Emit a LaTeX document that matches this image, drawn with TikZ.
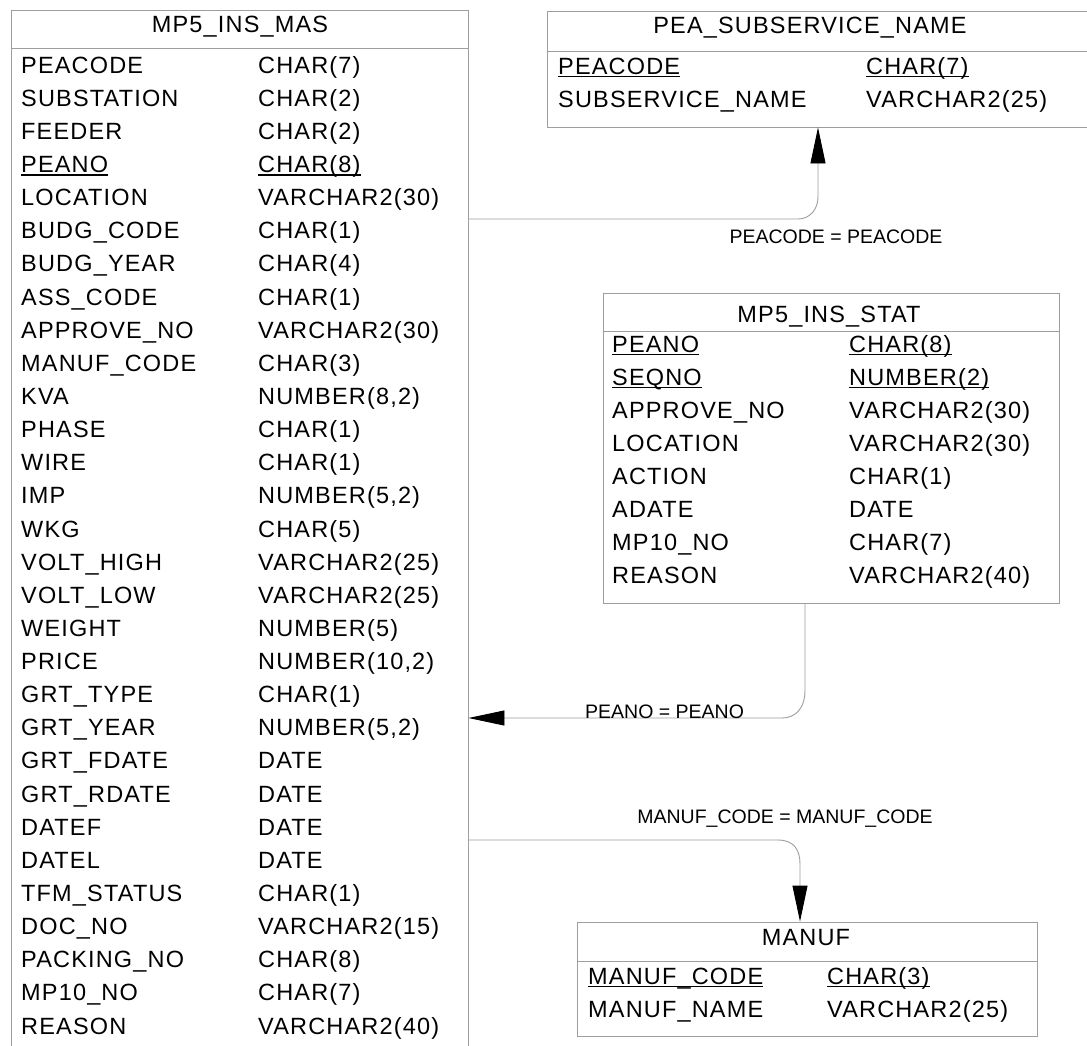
\documentclass[tikz,border=0pt]{standalone}
\usepackage{fontspec}
\setmainfont{Liberation Sans}
\newfontfamily\rowfont[LetterSpace=5]{Liberation Sans}
\usetikzlibrary{arrows.meta}
\definecolor{frame}{gray}{0.62}
% primary-key fields are underlined with a heavier rule
\newcommand\pkey[1]{\setbox0\hbox{#1}\rlap{\rule[-3.2pt]{\wd0}{1.6pt}}\box0}
\tikzset{
  tbl/.style={draw=frame, line width=0.9pt, rectangle, inner sep=0pt},
  sep/.style={draw=frame, line width=0.9pt},
  fld/.style={anchor=base west, inner sep=0pt, font=\rowfont\fontsize{23.5}{27}\selectfont},
  ttl/.style={anchor=base, inner sep=0pt, font=\rowfont\fontsize{23.5}{27}\selectfont},
  rel/.style={draw=frame, line width=0.9pt, -{Triangle[length=36pt,width=15pt,color=black]}},
  lbl/.style={inner sep=0pt, font=\fontsize{19.5}{22}\selectfont}
}
\begin{document}
\begin{tikzpicture}[x=1pt,y=-1pt]
\useasboundingbox[fill=white] (0,0) rectangle (1087,1045);

% ---------- table frames ----------
\node[tbl, minimum width=457pt, minimum height=1050pt] (mas) at (239.5,535) {};
\node[tbl, minimum width=548pt, minimum height=116pt] (pea) at (821,69) {};
\node[tbl, minimum width=456pt, minimum height=310pt] (stat) at (831,448) {};
\node[tbl, minimum width=460pt, minimum height=114pt] (manuf) at (807,979) {};

\draw[sep] ([yshift=-39pt]mas.north west) -- ([yshift=-39pt]mas.north east);
\draw[sep] ([yshift=-41pt]pea.north west) -- ([yshift=-41pt]pea.north east);
\draw[sep] ([yshift=-39pt]stat.north west) -- ([yshift=-39pt]stat.north east);
\draw[sep] ([yshift=-40pt]manuf.north west) -- ([yshift=-40pt]manuf.north east);

% ---------- MP5_INS_MAS ----------
\node[ttl] (mas-t) at (240,32) {MP5\_INS\_MAS};
\node[fld] (mas-n0)  at (21,73)     {PEACODE};      \node[fld] (mas-d0)  at (258,73)     {CHAR(7)};
\node[fld] (mas-n1)  at (21,106.1)  {SUBSTATION};   \node[fld] (mas-d1)  at (258,106.1)  {CHAR(2)};
\node[fld] (mas-n2)  at (21,139.3)  {FEEDER};       \node[fld] (mas-d2)  at (258,139.3)  {CHAR(2)};
\node[fld] (mas-n3)  at (21,172.4)  {\pkey{PEANO}}; \node[fld] (mas-d3)  at (258,172.4)  {\pkey{CHAR(8)}};
\node[fld] (mas-n4)  at (21,205.6)  {LOCATION};     \node[fld] (mas-d4)  at (258,205.6)  {VARCHAR2(30)};
\node[fld] (mas-n5)  at (21,238.7)  {BUDG\_CODE};   \node[fld] (mas-d5)  at (258,238.7)  {CHAR(1)};
\node[fld] (mas-n6)  at (21,271.8)  {BUDG\_YEAR};   \node[fld] (mas-d6)  at (258,271.8)  {CHAR(4)};
\node[fld] (mas-n7)  at (21,305)    {ASS\_CODE};    \node[fld] (mas-d7)  at (258,305)    {CHAR(1)};
\node[fld] (mas-n8)  at (21,338.1)  {APPROVE\_NO};  \node[fld] (mas-d8)  at (258,338.1)  {VARCHAR2(30)};
\node[fld] (mas-n9)  at (21,371.3)  {MANUF\_CODE};  \node[fld] (mas-d9)  at (258,371.3)  {CHAR(3)};
\node[fld] (mas-n10) at (21,404.4)  {KVA};          \node[fld] (mas-d10) at (258,404.4)  {NUMBER(8,2)};
\node[fld] (mas-n11) at (21,437.5)  {PHASE};        \node[fld] (mas-d11) at (258,437.5)  {CHAR(1)};
\node[fld] (mas-n12) at (21,470.7)  {WIRE};         \node[fld] (mas-d12) at (258,470.7)  {CHAR(1)};
\node[fld] (mas-n13) at (21,503.8)  {IMP};          \node[fld] (mas-d13) at (258,503.8)  {NUMBER(5,2)};
\node[fld] (mas-n14) at (21,537)    {WKG};          \node[fld] (mas-d14) at (258,537)    {CHAR(5)};
\node[fld] (mas-n15) at (21,570.1)  {VOLT\_HIGH};   \node[fld] (mas-d15) at (258,570.1)  {VARCHAR2(25)};
\node[fld] (mas-n16) at (21,603.2)  {VOLT\_LOW};    \node[fld] (mas-d16) at (258,603.2)  {VARCHAR2(25)};
\node[fld] (mas-n17) at (21,636.4)  {WEIGHT};       \node[fld] (mas-d17) at (258,636.4)  {NUMBER(5)};
\node[fld] (mas-n18) at (21,669.5)  {PRICE};        \node[fld] (mas-d18) at (258,669.5)  {NUMBER(10,2)};
\node[fld] (mas-n19) at (21,702.7)  {GRT\_TYPE};    \node[fld] (mas-d19) at (258,702.7)  {CHAR(1)};
\node[fld] (mas-n20) at (21,735.8)  {GRT\_YEAR};    \node[fld] (mas-d20) at (258,735.8)  {NUMBER(5,2)};
\node[fld] (mas-n21) at (21,768.9)  {GRT\_FDATE};   \node[fld] (mas-d21) at (258,768.9)  {DATE};
\node[fld] (mas-n22) at (21,802.1)  {GRT\_RDATE};   \node[fld] (mas-d22) at (258,802.1)  {DATE};
\node[fld] (mas-n23) at (21,835.2)  {DATEF};        \node[fld] (mas-d23) at (258,835.2)  {DATE};
\node[fld] (mas-n24) at (21,868.4)  {DATEL};        \node[fld] (mas-d24) at (258,868.4)  {DATE};
\node[fld] (mas-n25) at (21,901.5)  {TFM\_STATUS};  \node[fld] (mas-d25) at (258,901.5)  {CHAR(1)};
\node[fld] (mas-n26) at (21,934.6)  {DOC\_NO};      \node[fld] (mas-d26) at (258,934.6)  {VARCHAR2(15)};
\node[fld] (mas-n27) at (21,967.8)  {PACKING\_NO};  \node[fld] (mas-d27) at (258,967.8)  {CHAR(8)};
\node[fld] (mas-n28) at (21,1000.9) {MP10\_NO};     \node[fld] (mas-d28) at (258,1000.9) {CHAR(7)};
\node[fld] (mas-n29) at (21,1034.1) {REASON};       \node[fld] (mas-d29) at (258,1034.1) {VARCHAR2(40)};

% ---------- PEA_SUBSERVICE_NAME ----------
\node[ttl] (pea-t) at (810,33) {PEA\_SUBSERVICE\_NAME};
\node[fld] (pea-n0) at (558,74)  {\pkey{PEACODE}};   \node[fld] (pea-d0) at (866,74)  {\pkey{CHAR(7)}};
\node[fld] (pea-n1) at (558,107) {SUBSERVICE\_NAME}; \node[fld] (pea-d1) at (866,107) {VARCHAR2(25)};

% ---------- MP5_INS_STAT ----------
\node[ttl] (stat-t) at (829,322) {MP5\_INS\_STAT};
\node[fld] (stat-n0) at (612,352) {\pkey{PEANO}};   \node[fld] (stat-d0) at (849,352) {\pkey{CHAR(8)}};
\node[fld] (stat-n1) at (612,385) {\pkey{SEQNO}};   \node[fld] (stat-d1) at (849,385) {\pkey{NUMBER(2)}};
\node[fld] (stat-n2) at (612,418) {APPROVE\_NO};    \node[fld] (stat-d2) at (849,418) {VARCHAR2(30)};
\node[fld] (stat-n3) at (612,451) {LOCATION};       \node[fld] (stat-d3) at (849,451) {VARCHAR2(30)};
\node[fld] (stat-n4) at (612,484) {ACTION};         \node[fld] (stat-d4) at (849,484) {CHAR(1)};
\node[fld] (stat-n5) at (612,517) {ADATE};          \node[fld] (stat-d5) at (849,517) {DATE};
\node[fld] (stat-n6) at (612,550) {MP10\_NO};       \node[fld] (stat-d6) at (849,550) {CHAR(7)};
\node[fld] (stat-n7) at (612,583) {REASON};         \node[fld] (stat-d7) at (849,583) {VARCHAR2(40)};

% ---------- MANUF ----------
\node[ttl] (manuf-t) at (806,945) {MANUF};
\node[fld] (manuf-n0) at (588,984)  {\pkey{MANUF\_CODE}}; \node[fld] (manuf-d0) at (827,984)  {\pkey{CHAR(3)}};
\node[fld] (manuf-n1) at (588,1017) {MANUF\_NAME};        \node[fld] (manuf-d1) at (827,1017) {VARCHAR2(25)};

% ---------- relationships ----------
\coordinate (c1a) at (798,219);
\coordinate (c1b) at (818,197);
\draw[rel] (mas.east |- c1a) -- (c1a) .. controls +(12,0) and +(0,12) .. (c1b) -- (pea.south -| c1b);
\node[lbl, anchor=base] (l1) at (836,243) {PEACODE = PEACODE};

\coordinate (c2a) at (805,690);
\coordinate (c2b) at (782,718);
\draw[rel] (stat.south -| c2a) -- (c2a) .. controls +(0,20) and +(12,0) .. (c2b) -- (mas.east |- c2b);
\node[lbl, anchor=base west] (l2) at (585,718) {PEANO = PEANO};

\coordinate (c3a) at (778,840);
\coordinate (c3b) at (800,864);
\draw[rel] (mas.east |- c3a) -- (c3a) .. controls +(16,0) and +(0,-14) .. (c3b) -- (manuf.north -| c3b);
\node[lbl, anchor=base] (l3) at (785,823) {MANUF\_CODE = MANUF\_CODE};
\end{tikzpicture}
\end{document}
